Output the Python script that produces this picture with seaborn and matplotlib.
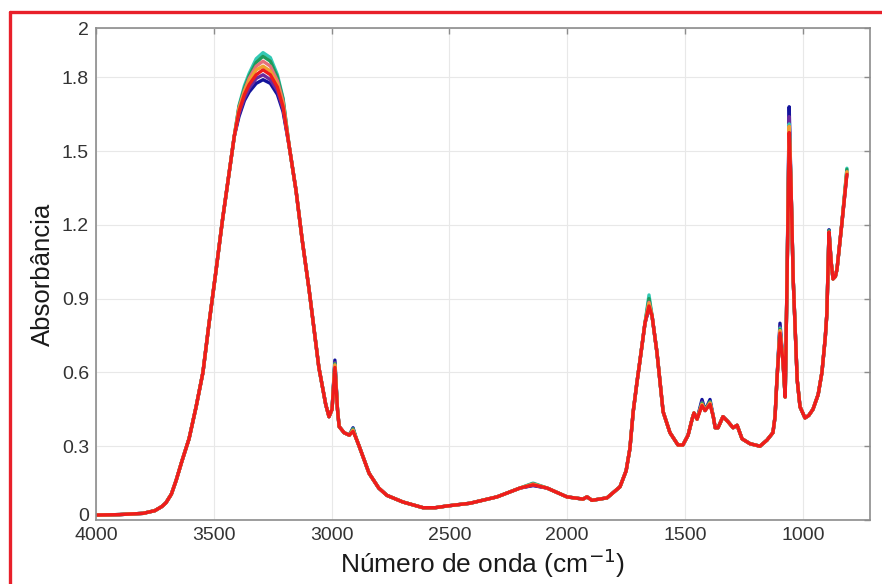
#!/usr/bin/env python3

import pandas as pd
import seaborn as sns
import matplotlib.pyplot as plt
from matplotlib.lines import Line2D
from matplotlib.transforms import ScaledTranslation

# === Spectrum data (red curve = reference sample) ===
WAVENUMBER = [
    4000, 3900, 3800, 3750, 3720, 3703, 3680, 3660, 3635, 3605,
    3575, 3546, 3520, 3491, 3463, 3435, 3413, 3393, 3370, 3350,
    3320, 3291, 3260, 3230, 3206, 3180, 3151, 3125, 3096, 3075,
    3054, 3025, 3011, 2998, 2986, 2975, 2968, 2947, 2925, 2909,
    2895, 2883, 2841, 2800, 2765, 2697, 2612, 2560, 2510, 2413,
    2298, 2200, 2145, 2086, 2001, 1933, 1916, 1895, 1831, 1776,
    1750, 1734, 1720, 1704, 1691, 1670, 1653, 1640, 1619, 1593,
    1564, 1530, 1509, 1487, 1470, 1462, 1449, 1428, 1415, 1394,
    1380, 1372, 1360, 1339, 1318, 1296, 1279, 1258, 1224, 1182,
    1152, 1127, 1118, 1110, 1097, 1084, 1075, 1067, 1058, 1050,
    1041, 1024, 1012, 991, 975, 957, 935, 919, 905, 898,
    889, 880, 872, 862, 855, 835, 813,
]
ABS_BASE = [
    0.020, 0.022, 0.027, 0.038, 0.055, 0.070, 0.105, 0.160, 0.240, 0.330,
    0.460, 0.600, 0.800, 1.010, 1.220, 1.410, 1.560, 1.660, 1.730, 1.770,
    1.810, 1.830, 1.810, 1.760, 1.680, 1.520, 1.340, 1.140, 0.940, 0.780,
    0.620, 0.470, 0.420, 0.450, 0.620, 0.450, 0.380, 0.355, 0.345, 0.360,
    0.330, 0.300, 0.190, 0.130, 0.100, 0.073, 0.050, 0.050, 0.057, 0.068,
    0.094, 0.130, 0.143, 0.130, 0.094, 0.085, 0.094, 0.080, 0.090, 0.135,
    0.200, 0.290, 0.440, 0.560, 0.650, 0.800, 0.870, 0.830, 0.680, 0.440,
    0.355, 0.305, 0.305, 0.345, 0.410, 0.435, 0.410, 0.465, 0.445, 0.470,
    0.420, 0.375, 0.375, 0.420, 0.400, 0.375, 0.385, 0.330, 0.310, 0.300,
    0.325, 0.355, 0.420, 0.570, 0.760, 0.640, 0.500, 0.980, 1.575, 1.350,
    0.980, 0.570, 0.460, 0.415, 0.425, 0.450, 0.510, 0.600, 0.740, 0.840,
    1.170, 1.050, 0.980, 0.990, 1.020, 1.200, 1.405,
]

# Peak heights where the samples separate from each other
PEAK_WN = [3393, 3370, 3350, 3320, 3291, 3260, 3230, 3206, 2986, 2909,
           2145, 1653, 1428, 1394, 1097, 1058, 889, 813]
PEAKS_BLUE = [1.640, 1.705, 1.740, 1.775, 1.790, 1.775, 1.730, 1.660, 0.650, 0.375,
              0.140, 0.860, 0.490, 0.490, 0.800, 1.680, 1.180, 1.410]
PEAKS_PURPLE = [1.650, 1.715, 1.755, 1.795, 1.810, 1.790, 1.745, 1.670, 0.640, 0.370,
                0.141, 0.865, 0.480, 0.480, 0.785, 1.640, 1.175, 1.410]
PEAKS_CYAN = [1.685, 1.765, 1.815, 1.875, 1.900, 1.880, 1.810, 1.715, 0.635, 0.370,
              0.150, 0.915, 0.475, 0.480, 0.780, 1.610, 1.175, 1.430]
PEAKS_GREEN = [1.680, 1.755, 1.805, 1.860, 1.885, 1.865, 1.800, 1.710, 0.635, 0.370,
               0.148, 0.900, 0.475, 0.480, 0.775, 1.600, 1.175, 1.425]
PEAKS_PINK = [1.675, 1.745, 1.795, 1.845, 1.865, 1.845, 1.785, 1.700, 0.630, 0.365,
              0.146, 0.885, 0.470, 0.475, 0.770, 1.600, 1.170, 1.415]
PEAKS_ORANGE = [1.670, 1.740, 1.785, 1.830, 1.845, 1.825, 1.770, 1.690, 0.630, 0.365,
                0.145, 0.880, 0.470, 0.475, 0.770, 1.600, 1.170, 1.415]

SAMPLES = ["A1", "A2", "A3", "A4", "A5", "A6", "A7"]
SAMPLE_PEAKS = [PEAKS_BLUE, PEAKS_PURPLE, PEAKS_CYAN, PEAKS_GREEN,
                PEAKS_PINK, PEAKS_ORANGE, None]
COLORS = ["#14149c", "#6b2a9e", "#33c9b5", "#1f9a5a",
          "#e8707a", "#f0a030", "#ee1c1c"]

Y_TICKS = [0, 0.3, 0.6, 0.9, 1.2, 1.5, 1.8, 2]
Y_TICKLABELS = ["0", "0.3", "0.6", "0.9", "1.2", "1.5", "1.8", "2"]
X_TICKS = [4000, 3500, 3000, 2500, 2000, 1500, 1000]


def main():
    # === Build long table ===
    rows = []
    for name, peaks in zip(SAMPLES, SAMPLE_PEAKS):
        values = list(ABS_BASE)
        if peaks is not None:
            for wn, v in zip(PEAK_WN, peaks):
                values[WAVENUMBER.index(wn)] = v
        rows.append(pd.DataFrame({"wn": WAVENUMBER, "abs": values, "amostra": name}))
    df = pd.concat(rows, ignore_index=True)

    sns.set_theme(style="whitegrid")
    plt.rcParams["font.family"] = ["Liberation Sans", "DejaVu Sans"]

    fig = plt.figure(figsize=(8.82, 5.84), dpi=100)
    ax = fig.add_axes([0.1088, 0.1096, 0.8776, 0.8424])

    sns.lineplot(
        data=df, x="wn", y="abs", hue="amostra", hue_order=SAMPLES,
        palette=COLORS, estimator=None, sort=False, linewidth=2.4,
        legend=False, ax=ax
    )

    ax.set_xlim(4000, 715)
    ax.set_ylim(0, 2)
    ax.set_xticks(X_TICKS)
    ax.set_xticklabels([str(t) for t in X_TICKS])
    ax.set_yticks(Y_TICKS)
    ax.set_yticklabels(Y_TICKLABELS)

    ax.set_facecolor("white")
    ax.grid(True, color="#e8e8e8", linewidth=0.8)
    for sp in ax.spines.values():
        sp.set_visible(True)
        sp.set_color("#8c8c8c")
        sp.set_linewidth(1.2)
    ax.tick_params(direction="in", length=4, width=1, color="#8c8c8c",
                   top=True, right=True, labelsize=14, labelcolor="#333333")
    ax.tick_params(axis="x", pad=5)
    ax.tick_params(axis="y", pad=5)

    # lift the "0" label a little so it sits above "4000" like in the original
    zero_lbl = ax.get_yticklabels()[0]
    zero_lbl.set_transform(zero_lbl.get_transform()
                           + ScaledTranslation(0, 4 / 72, fig.dpi_scale_trans))

    ax.set_xlabel("Número de onda (cm$^{-1}$)", fontsize=19, color="#1a1a1a", labelpad=2)
    ax.set_ylabel("Absorbância", fontsize=18.5, color="#1a1a1a", labelpad=5)

    # red frame on the left and top edges of the picture
    fig.add_artist(Line2D([9.5 / 882, 9.5 / 882], [0, 1 - 11.5 / 584],
                          transform=fig.transFigure, color="#e8202a", linewidth=2.4))
    fig.add_artist(Line2D([9.5 / 882, 1], [1 - 11.5 / 584, 1 - 11.5 / 584],
                          transform=fig.transFigure, color="#e8202a", linewidth=2.4))

    fig.savefig("out.png", dpi=100, facecolor="white")
    plt.close(fig)


if __name__ == "__main__":
    main()
